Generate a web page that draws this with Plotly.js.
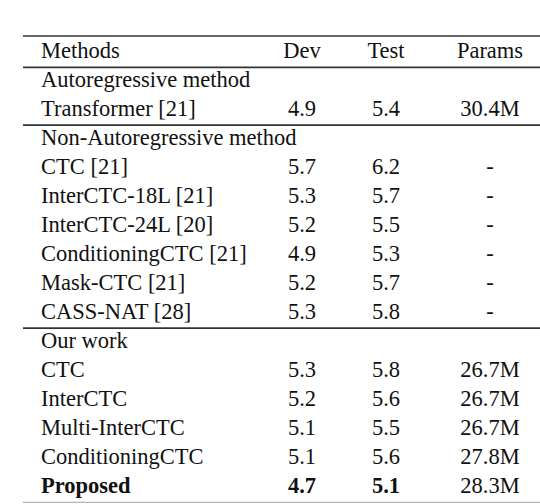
<!DOCTYPE html>
<html>
<head>
<meta charset="utf-8">
<script src="https://cdn.plot.ly/plotly-3.0.1.min.js"></script>
<style>
  html, body { margin: 0; padding: 0; background: #fff; }
  #table { width: 540px; height: 504px; }
</style>
</head>
<body>
<div id="table"></div>
<script>
// table contents
const headers = ["Methods", "Dev", "Test", "Params"];
const methods = [
  "Autoregressive method",
  "Transformer [21]",
  "Non-Autoregressive method",
  "CTC [21]",
  "InterCTC-18L [21]",
  "InterCTC-24L [20]",
  "ConditioningCTC [21]",
  "Mask-CTC [21]",
  "CASS-NAT [28]",
  "Our work",
  "CTC",
  "InterCTC",
  "Multi-InterCTC",
  "ConditioningCTC",
  "Proposed"
];
const dev    = [null, 4.9, null, 5.7, 5.3, 5.2, 4.9, 5.2, 5.3, null, 5.3, 5.2, 5.1, 5.1, 4.7];
const test   = [null, 5.4, null, 6.2, 5.7, 5.5, 5.3, 5.7, 5.8, null, 5.8, 5.6, 5.5, 5.6, 5.1];
const params = ["", "30.4M", "", "-", "-", "-", "-", "-", "-", "", "26.7M", "26.7M", "26.7M", "27.8M", "28.3M"];
const bestRow = 14;          // "Proposed" is set in bold
const ruleAfter = [1, 8];    // section rules below these rows

// layout: one y unit per row, x in page pixels
const colX = { methods: 41, dev: 302, test: 386, params: 490 };
const font = { family: '"Liberation Serif"', size: 22.5, color: "#111" };

const rows = methods.map((_, i) => i);
const fmt = (v, i) => v === null ? "" : (i === bestRow ? "<b>" + v.toFixed(1) + "</b>" : v.toFixed(1));

function col(x, y, text, pos) {
  return {
    type: "scatter", mode: "text",
    x: y.map(() => x), y: y, text: text,
    textposition: pos, textfont: font,
    hoverinfo: "skip", showlegend: false, cliponaxis: false
  };
}

const traces = [
  col(colX.methods, [-1], [headers[0]], "middle right"),
  col(colX.dev, [-1], [headers[1]], "middle center"),
  col(colX.test, [-1], [headers[2]], "middle center"),
  col(colX.params, [-1], [headers[3]], "middle center"),
  col(colX.methods, rows, methods.map((m, i) => i === bestRow ? "<b>" + m + "</b>" : m), "middle right"),
  col(colX.dev, rows, dev.map(fmt), "middle center"),
  col(colX.test, rows, test.map(fmt), "middle center"),
  col(colX.params, rows, params, "middle center")
];

function rule(y, color, width) {
  return {
    type: "line", xref: "x", yref: "y",
    x0: 23, x1: 540, y0: y, y1: y,
    line: { color: color, width: width }
  };
}

const shapes = [
  rule(-1.55, "#333", 1.6),
  rule(-0.47, "#333", 1.6),
  ...ruleAfter.map(r => rule(r + 0.52, "#333", 1.6)),
  rule(methods.length - 1 + 0.53, "#b5b5b5", 1.2)
];

const layout = {
  width: 540, height: 504,
  margin: { l: 0, r: 0, t: 0, b: 0 },
  paper_bgcolor: "#fff", plot_bgcolor: "#fff",
  xaxis: { range: [0, 540], visible: false, fixedrange: true },
  yaxis: { range: [(504 - 81) / 29, -81 / 29], visible: false, fixedrange: true },
  shapes: shapes
};

Plotly.newPlot("table", traces, layout, { displayModeBar: false, staticPlot: true });
</script>
</body>
</html>
